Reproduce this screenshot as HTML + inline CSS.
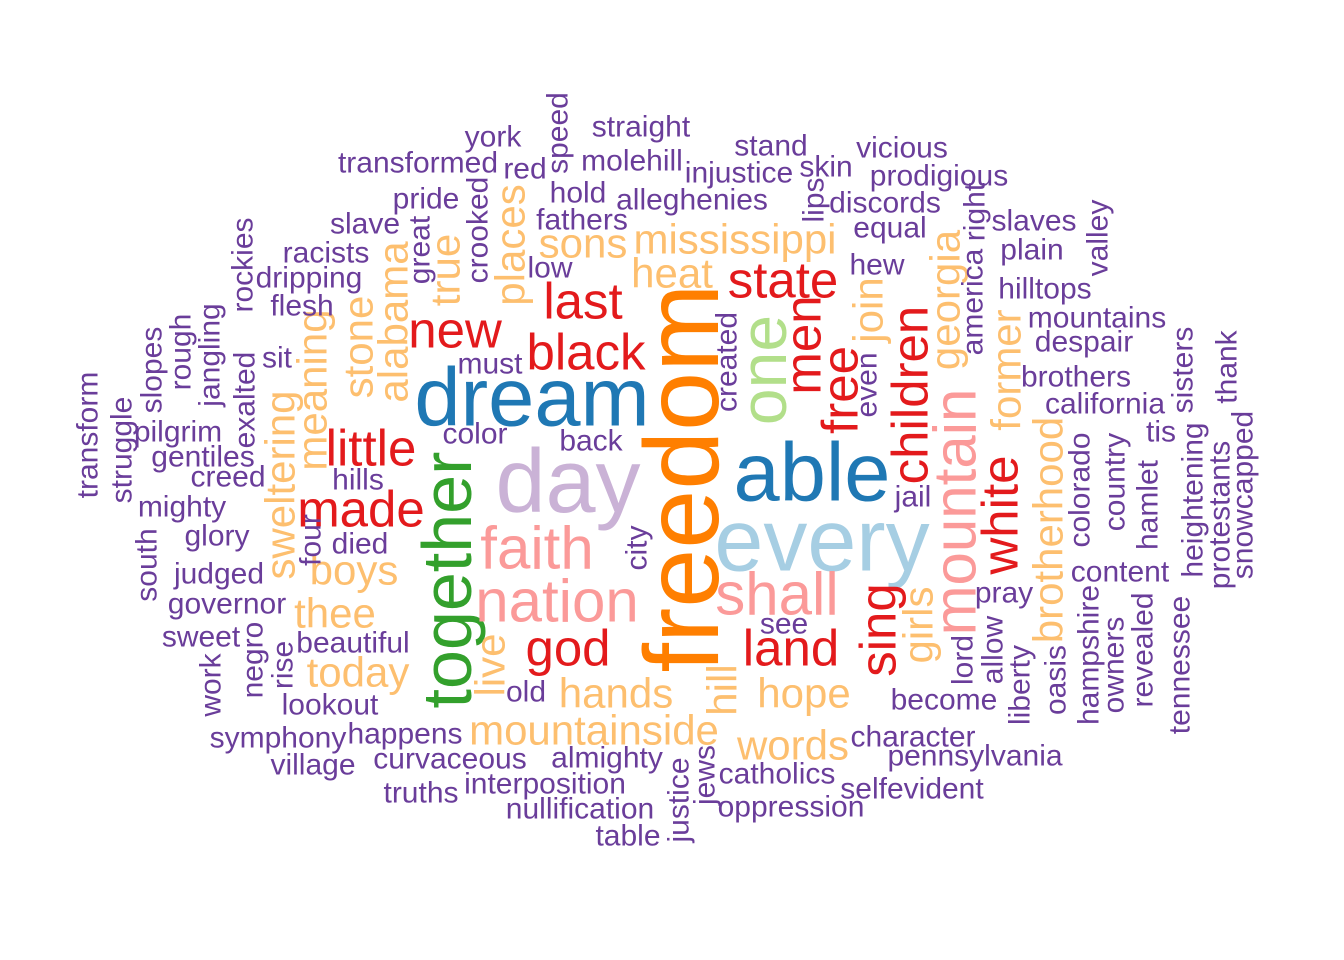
<!DOCTYPE html>
<html>
<head>
<meta charset="utf-8">
<style>
  html, body { margin: 0; padding: 0; background: #ffffff; }
  svg { display: block; }
  text { font-family: "Liberation Sans", Arial, sans-serif; }
</style>
</head>
<body>
<svg id="cloud" width="1344" height="960" viewBox="0 0 1344 960"></svg>
<script>
// Word data: word, frequency tier (drives size and colour)
const words = ["freedom","day","every","dream","able","together","one","faith","nation","shall","mountain",
"last","state","new","black","men","free","children","little","made","white","god","land","sing",
"mississippi","sons","places","alabama","true","heat","georgia","join","stone","meaning","former","sweltering","brotherhood","boys","thee","today","live","girls","hands","hill","hope","mountainside","words",
"transformed","york","red","speed","straight","molehill","stand","vicious","injustice","skin","prodigious","pride","hold","alleghenies","lips","discords","slave","fathers","crooked","great","equal","right","slaves","valley","racists","plain","america","low","dripping","hew","rockies","hilltops","flesh","mountains","despair","slopes","rough","jangling","sit","must","created","even","brothers","sisters","thank","transform","struggle","exalted","pilgrim","california","color","back","tis","gentiles","creed","hills","colorado","country","jail","heightening","protestants","snowcapped","mighty","hamlet","glory","four","died","city","south","judged","content","pray","governor","revealed","tennessee","hampshire","owners","see","sweet","negro","beautiful","rise","allow","lord","oasis","liberty","work","old","become","lookout","symphony","happens","character","village","curvaceous","almighty","pennsylvania","jews","catholics","truths","interposition","justice","selfevident","nullification","oppression","table"];
const tiers = [9,8,7,6,6,5,4,3,3,3,3,
2,2,2,2,2,2,2,2,2,2,2,2,2,
1,1,1,1,1,1,1,1,1,1,1,1,1,1,1,1,1,1,1,1,1,1,1];
const tierSizes = [30,42,51,60,66,70,83,88,90,106];
const tierColors = ["#6A3D9A","#FDBF6F","#E31A1C","#FB9A99","#B2DF8A","#33A02C","#1F78B4","#A6CEE3","#CAB2D6","#FF7F00"];
// Layout produced by the cloud placement (x, y centre, vertical flag)
const layout = [[682,478,1],[568,482,0],[822,540,0],[532,397,0],[812,472,0],[447,580,1],[763,370,1],[537,548,0],[557,601,0],[777,594,0],[955,512,1],
[583,301,0],[783,280,0],[455,330,0],[586,352,0],[803,345,1],[840,390,1],[910,395,1],[371,448,0],[361,509,0],[1000,515,1],[568,648,0],[791,648,0],[878,630,1],
[735,239,0],[583,243,0],[510,245,1],[393,322,1],[445,270,1],[672,273,0],[945,300,1],[868,310,1],[358,347,1],[312,390,1],[1006,370,1],[280,485,1],[1048,530,1],[354,570,0],[335,613,0],[358,672,0],[490,665,1],[918,625,1],[616,693,0],[722,690,1],[804,693,0],[594,730,0],[793,745,0],
[418,163,0],[493,137,0],[525,169,0],[558,133,1],[641,127,0],[632,161,0],[771,146,0],[902,148,0],[739,173,0],[826,167,0],[939,176,0],[426,199,0],[578,193,0],[692,200,0],[814,200,1],[885,203,0],[365,224,0],[582,220,0],[478,230,1],[420,250,1],[890,228,0],[975,212,1],[1034,221,0],[1098,238,1],[326,253,0],[1032,250,0],[973,302,1],[550,268,0],[309,278,0],[877,265,0],[243,265,1],[1045,289,0],[302,306,0],[1097,318,0],[1084,342,0],[152,370,1],[181,352,1],[210,355,1],[277,358,0],[490,364,0],[727,362,1],[867,385,1],[1076,377,0],[1183,370,1],[1227,367,1],[88,435,1],[122,450,1],[245,400,1],[178,432,0],[1105,404,0],[475,434,0],[591,441,0],[1161,432,0],[203,457,0],[228,477,0],[358,480,0],[1080,490,1],[1115,482,1],[913,497,0],[1193,500,1],[1220,515,1],[1243,495,1],[182,507,0],[1148,505,1],[217,536,0],[311,540,1],[360,544,0],[637,548,1],[147,565,1],[219,574,0],[1120,572,0],[1004,593,0],[227,604,0],[1143,650,1],[1180,665,1],[1089,655,1],[1114,665,1],[784,624,0],[201,637,0],[253,660,1],[353,643,0],[283,665,1],[993,650,1],[963,660,1],[1056,680,1],[1020,685,1],[211,685,1],[526,692,0],[944,700,0],[330,705,0],[278,738,0],[405,734,0],[913,737,0],[313,765,0],[450,759,0],[607,758,0],[975,756,0],[705,775,1],[777,774,0],[421,793,0],[545,784,0],[679,800,1],[912,789,0],[580,809,0],[791,807,0],[628,836,0]];

const svg = document.getElementById('cloud');
const NS = 'http://www.w3.org/2000/svg';
words.forEach((w, i) => {
  const tier = i < tiers.length ? tiers[i] : 0;
  const [x, y, v] = layout[i];
  const t = document.createElementNS(NS, 'text');
  t.setAttribute('x', x);
  t.setAttribute('y', y);
  t.setAttribute('text-anchor', 'middle');
  t.setAttribute('dominant-baseline', 'central');
  t.setAttribute('font-size', tierSizes[tier]);
  t.setAttribute('fill', tierColors[tier]);
  if (v) t.setAttribute('transform', 'rotate(-90 ' + x + ' ' + y + ')');
  t.textContent = w;
  
  
  svg.appendChild(t);
});
</script>
</body>
</html>
